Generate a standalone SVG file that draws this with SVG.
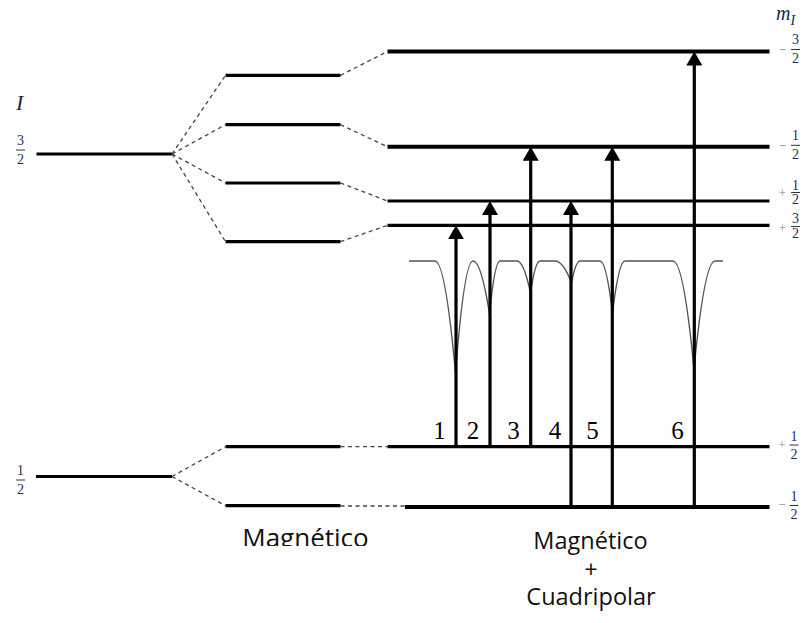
<svg xmlns="http://www.w3.org/2000/svg" width="805" height="623" viewBox="0 0 805 623">
  <style>
    .lvl { stroke: #000; stroke-width: 3.2; fill: none; }
    .lvl-b { stroke: #000; stroke-width: 4; fill: none; }
    .dash { stroke: #444; stroke-width: 1.3; stroke-dasharray: 4 3.5; fill: none; }
    .spec { stroke: #555; stroke-width: 1.4; fill: none; }
    .arr { stroke: #000; stroke-width: 3.2; fill: none; marker-end: url(#ah); }
    .sym { font-family: "Liberation Serif", "Times New Roman", serif; font-style: italic; fill: #1a2550; }
    .fr { font-family: "Liberation Serif", "Times New Roman", serif; font-size: 14px; fill: #1c2c5c; text-anchor: middle; }
    .sg { font-family: "Liberation Serif", "Times New Roman", serif; font-size: 13px; fill: #888; text-anchor: middle; }
    .bar { stroke: #333; stroke-width: 1; }
    .num { font-family: "Liberation Serif", "Times New Roman", serif; font-size: 25px; fill: #000; text-anchor: middle; }
    .cap { font-family: "Open Sans", "Noto Sans", sans-serif; fill: #111; text-anchor: middle; }
  </style>
  <defs>
    <marker id="ah" viewBox="0 0 14 16" refX="2" refY="8" markerWidth="14" markerHeight="16" markerUnits="userSpaceOnUse" orient="auto">
      <path d="M0,0 L14,8 L0,16 Z" fill="#000"/>
    </marker>
    <clipPath id="capclip">
      <rect x="200" y="500" width="200" height="46"/>
    </clipPath>
  </defs>

  <!-- axis symbols -->
  <text class="sym" x="16" y="110" font-size="22">I</text>
  <text class="sym" x="776" y="20" font-size="20">m<tspan font-size="14" dy="5">I</tspan></text>

  <!-- I = 3/2 manifold -->
  <g id="I32">
    <line class="lvl" x1="36.5" y1="154" x2="172" y2="154"/>
    <text class="fr" x="20.5" y="144.5">3</text>
    <line class="bar" x1="16" y1="150" x2="25" y2="150"/>
    <text class="fr" x="20.5" y="163.5">2</text>
  </g>

  <!-- I = 1/2 manifold -->
  <g id="I12">
    <line class="lvl" x1="36" y1="476.5" x2="172" y2="476.5"/>
    <text class="fr" x="20.5" y="474.5">1</text>
    <line class="bar" x1="16" y1="480" x2="25" y2="480"/>
    <text class="fr" x="20.5" y="493.5">2</text>
  </g>

  <!-- magnetic splitting -->
  <g id="mag32">
    <line class="lvl" x1="225.5" y1="75.3" x2="340.5" y2="75.3"/>
    <line class="lvl" x1="225.5" y1="124.7" x2="340.5" y2="124.7"/>
    <line class="lvl" x1="225.5" y1="183" x2="340.5" y2="183"/>
    <line class="lvl" x1="225.5" y1="241.7" x2="340.5" y2="241.7"/>
  </g>
  <g id="mag12">
    <line class="lvl" x1="225.5" y1="446.7" x2="340.5" y2="446.7"/>
    <line class="lvl" x1="225.5" y1="505.7" x2="340.5" y2="505.7"/>
  </g>

  <!-- magnetic + quadrupole levels -->
  <g id="mq-m32">
    <line class="lvl-b" x1="387.5" y1="51.5" x2="769.5" y2="51.5"/>
    <text class="sg" x="782.5" y="53.5">−</text>
    <text class="fr" x="795.5" y="43.5">3</text>
    <line class="bar" x1="791" y1="49.5" x2="800" y2="49.5"/>
    <text class="fr" x="795.5" y="63">2</text>
  </g>
  <g id="mq-m12">
    <line class="lvl-b" x1="387.5" y1="146.8" x2="769.5" y2="146.8"/>
    <text class="sg" x="782.5" y="149.5">−</text>
    <text class="fr" x="795.5" y="140">1</text>
    <line class="bar" x1="791" y1="145.3" x2="800" y2="145.3"/>
    <text class="fr" x="795.5" y="159">2</text>
  </g>
  <g id="mq-p12">
    <line class="lvl" x1="387.5" y1="201" x2="769.5" y2="201"/>
    <text class="sg" x="782.5" y="196.5">+</text>
    <text class="fr" x="795.5" y="189.5">1</text>
    <line class="bar" x1="791" y1="192.5" x2="800" y2="192.5"/>
    <text class="fr" x="795.5" y="203.5">2</text>
  </g>
  <g id="mq-p32">
    <line class="lvl" x1="387.5" y1="225.3" x2="769.5" y2="225.3"/>
    <text class="sg" x="782.5" y="231.5">+</text>
    <text class="fr" x="795.5" y="223">3</text>
    <line class="bar" x1="791" y1="226.5" x2="800" y2="226.5"/>
    <text class="fr" x="795.5" y="237.5">2</text>
  </g>
  <g id="mq-g-p12">
    <line class="lvl" x1="387.5" y1="446.7" x2="769.5" y2="446.7"/>
    <text class="sg" x="782" y="448.5">+</text>
    <text class="fr" x="794" y="440.5">1</text>
    <line class="bar" x1="789.5" y1="445" x2="798.5" y2="445"/>
    <text class="fr" x="794" y="458.5">2</text>
  </g>
  <g id="mq-g-m12">
    <line class="lvl-b" x1="405" y1="507" x2="769.5" y2="507"/>
    <text class="sg" x="782" y="509">−</text>
    <text class="fr" x="794" y="500.5">1</text>
    <line class="bar" x1="789.5" y1="505.5" x2="798.5" y2="505.5"/>
    <text class="fr" x="794" y="519">2</text>
  </g>

  <!-- correlation lines and transitions -->
  <g id="connectors">
    <line class="dash" x1="172" y1="154" x2="225.5" y2="75.3"/>
    <line class="dash" x1="172" y1="154" x2="225.5" y2="124.7"/>
    <line class="dash" x1="172" y1="154" x2="225.5" y2="183"/>
    <line class="dash" x1="172" y1="154" x2="225.5" y2="241.7"/>
    <line class="dash" x1="340.5" y1="75.3" x2="387.5" y2="51.5"/>
    <line class="dash" x1="340.5" y1="124.7" x2="387.5" y2="146.8"/>
    <line class="dash" x1="340.5" y1="183" x2="387.5" y2="201"/>
    <line class="dash" x1="340.5" y1="241.7" x2="387.5" y2="225.3"/>
    <line class="dash" x1="172" y1="476.5" x2="225.5" y2="446.7"/>
    <line class="dash" x1="172" y1="476.5" x2="225.5" y2="505.7"/>
    <line class="dash" x1="340.5" y1="446.7" x2="387.5" y2="446.7"/>
    <line class="dash" x1="340.5" y1="506" x2="405" y2="506"/>

    <!-- absorption spectrum -->
    <path class="spec" d="M409,261 H435 Q445.25,261 455.5,373 Q464.25,261 473,261 Q481.25,261 489.5,314 Q494.75,261 500,261 H517 Q523.75,261 530.5,293 Q535.25,261 540,261 H555 Q563.25,261 571.5,283 Q575.75,261 580,261 H600 Q606.25,261 612.5,313 Q618.75,261 625,261 H673 Q683.5,261 694,369 Q704.5,261 715,261 H723"/>

    <line class="arr" x1="456" y1="446.7" x2="456" y2="237.3"/>
    <line class="arr" x1="490" y1="446.7" x2="490" y2="213" stroke-width="3.6"/>
    <line class="arr" x1="530.7" y1="446.7" x2="530.7" y2="158.8"/>
    <line class="arr" x1="571" y1="507" x2="571" y2="213"/>
    <line class="arr" x1="612.3" y1="507" x2="612.3" y2="158.8"/>
    <line class="arr" x1="694.3" y1="507" x2="694.3" y2="63.5" stroke-width="5"/>

    <text class="num" x="439.5" y="438.5">1</text>
    <text class="num" x="473" y="438.5">2</text>
    <text class="num" x="513.5" y="438.5">3</text>
    <text class="num" x="555" y="438.5">4</text>
    <text class="num" x="592.5" y="438.5">5</text>
    <text class="num" x="677.5" y="438.5">6</text>
  </g>

  <!-- captions -->
  <text class="cap" x="305.5" y="546.8" font-size="26" clip-path="url(#capclip)">Magnético</text>
  <text class="cap" x="590.5" y="549" font-size="23.5">Magnético</text>
  <text class="cap" x="591" y="577.5" font-size="23.5">+</text>
  <text class="cap" x="591" y="605" font-size="23.5">Cuadripolar</text>
</svg>
